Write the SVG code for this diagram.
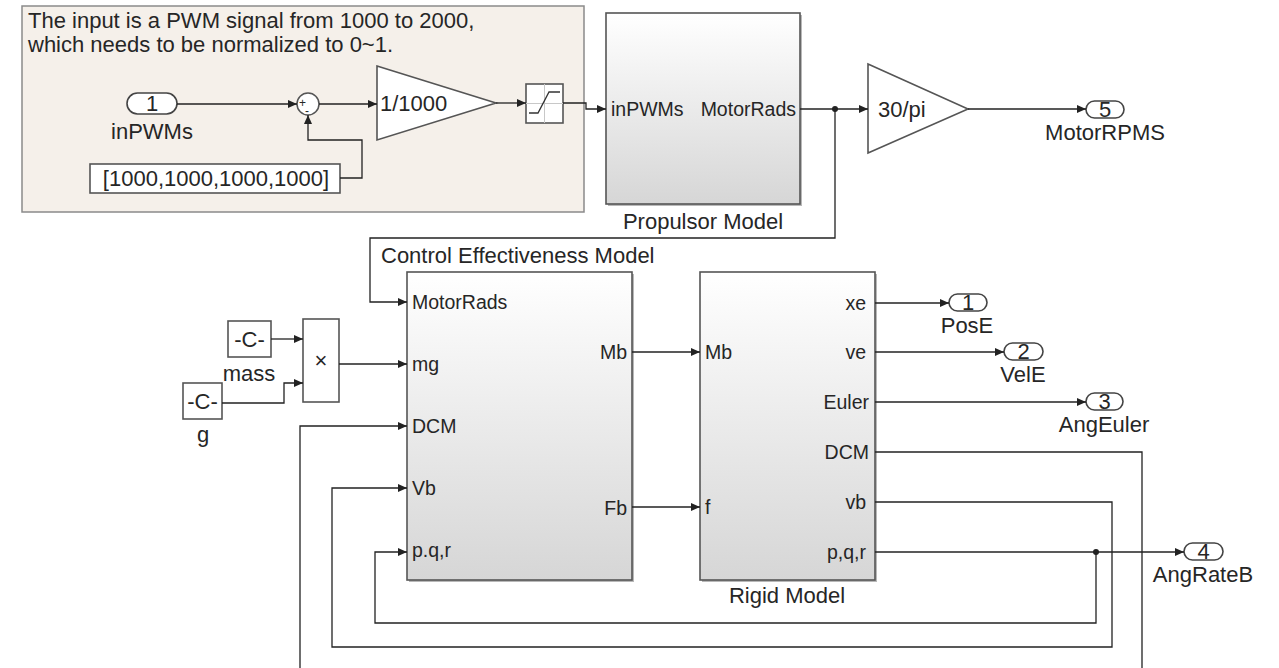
<svg xmlns="http://www.w3.org/2000/svg" width="1279" height="668" viewBox="0 0 1279 668">
  <style>
    .txt { font-family: "Liberation Sans", Arial, sans-serif; font-size: 22px; fill: #262626; }
    .port { font-family: "Liberation Sans", Arial, sans-serif; font-size: 19.5px; fill: #262626; }
    .small { font-family: "Liberation Sans", Arial, sans-serif; font-size: 12px; fill: #262626; }
    .sub { fill: url(#blkGrad); stroke: #555; stroke-width: 1.6; }
    .shadow { fill: #b8b8b8; }
    .plain { fill: #fff; stroke: #555; stroke-width: 1.6; }
    .pill { fill: #fff; stroke: #444; stroke-width: 1.6; }
    .wire { fill: none; stroke: #222; stroke-width: 1.3; }
    .arrow { marker-end: url(#ah); }
    .mid { text-anchor: middle; }
    .end { text-anchor: end; }
  </style>
  <defs>
    <linearGradient id="blkGrad" x1="0" y1="0" x2="0" y2="1">
      <stop offset="0" stop-color="#ffffff"/>
      <stop offset="1" stop-color="#d6d6d6"/>
    </linearGradient>
    <marker id="ah" markerUnits="userSpaceOnUse" markerWidth="10" markerHeight="8" refX="9" refY="4" orient="auto">
      <path d="M0,0 L9,4 L0,8 z" fill="#222"/>
    </marker>
  </defs>

  <!-- annotation area: input normalisation -->
  <g id="area-normalize">
    <rect x="22" y="6" width="562" height="206" fill="#f5f0ea" stroke="#8a8a8a" stroke-width="1.5"/>
    <text class="txt" x="28" y="28">The input is a PWM signal from 1000 to 2000,</text>
    <text class="txt" x="28" y="52">which needs to be normalized to 0~1.</text>
  </g>

  <!-- inport 1 -->
  <g id="in-pwms">
    <rect class="pill" x="127" y="93" width="50" height="21" rx="10.5"/>
    <text class="txt mid" x="152" y="111">1</text>
    <text class="txt mid" x="152" y="139">inPWMs</text>
  </g>

  <!-- sum -->
  <g id="sum">
    <circle cx="308" cy="104" r="11" fill="#fff" stroke="#555" stroke-width="1.5"/>
    <text class="small" x="299" y="107">+</text>
    <text class="small" x="305" y="115">-</text>
  </g>

  <!-- constant offset -->
  <g id="const-offset">
    <rect class="plain" x="90" y="164" width="250" height="29"/>
    <text class="txt mid" x="216" y="186">[1000,1000,1000,1000]</text>
  </g>

  <!-- gain 1/1000 -->
  <g id="gain-scale">
    <path class="plain" d="M377,66 L496,103 L377,140 z"/>
    <text class="txt" x="380" y="111">1/1000</text>
  </g>

  <!-- saturation -->
  <g id="saturation">
    <rect class="plain" x="526" y="84" width="37" height="39"/>
    <path d="M526,103.5 H563 M544.5,84 V123" stroke="#c8c8c8" stroke-width="1"/>
    <path d="M529,113 H538 L549,92 H560" fill="none" stroke="#333" stroke-width="1.3"/>
  </g>

  <!-- propulsor subsystem -->
  <g id="propulsor-model">
    <rect class="shadow" x="608" y="15" width="194" height="191"/>
    <rect class="sub" x="606" y="13" width="194" height="191"/>
    <text class="port" x="611" y="116">inPWMs</text>
    <text class="port end" x="796" y="116">MotorRads</text>
    <text class="txt mid" x="703" y="229">Propulsor Model</text>
  </g>

  <!-- gain 30/pi -->
  <g id="gain-rpm">
    <path class="plain" d="M868,64 L968,109 L868,153 z"/>
    <text class="txt" x="878" y="117">30/pi</text>
  </g>

  <!-- outport 5 -->
  <g id="out-motor-rpms">
    <rect class="pill" x="1086" y="101" width="38" height="17" rx="8.5"/>
    <text class="txt mid" x="1105" y="117">5</text>
    <text class="txt mid" x="1105" y="140">MotorRPMS</text>
  </g>

  <!-- constants mass and g -->
  <g id="const-mass">
    <rect class="plain" x="228" y="321" width="43" height="36"/>
    <text class="txt mid" x="249.5" y="347">-C-</text>
    <text class="txt mid" x="249" y="381">mass</text>
  </g>
  <g id="const-g">
    <rect class="plain" x="183" y="383" width="39" height="36"/>
    <text class="txt mid" x="202.5" y="409">-C-</text>
    <text class="txt mid" x="203" y="442">g</text>
  </g>

  <!-- product -->
  <g id="product">
    <rect class="plain" x="303" y="319" width="36" height="83"/>
    <text class="txt mid" x="321" y="368">×</text>
  </g>

  <!-- control effectiveness subsystem -->
  <g id="control-effectiveness-model">
    <text class="txt" x="381" y="263">Control Effectiveness Model</text>
    <rect class="shadow" x="409" y="274" width="225" height="308"/>
    <rect class="sub" x="407" y="272" width="225" height="308"/>
    <text class="port" x="412" y="309">MotorRads</text>
    <text class="port" x="412" y="371">mg</text>
    <text class="port" x="412" y="433">DCM</text>
    <text class="port" x="412" y="495">Vb</text>
    <text class="port" x="412" y="557">p.q,r</text>
    <text class="port end" x="627" y="359">Mb</text>
    <text class="port end" x="627" y="515">Fb</text>
  </g>

  <!-- rigid body subsystem -->
  <g id="rigid-model">
    <rect class="shadow" x="702" y="274" width="175" height="308"/>
    <rect class="sub" x="700" y="272" width="175" height="308"/>
    <text class="port" x="705" y="359">Mb</text>
    <text class="port" x="705" y="514">f</text>
    <text class="port end" x="866" y="310">xe</text>
    <text class="port end" x="866" y="359">ve</text>
    <text class="port end" x="869" y="409">Euler</text>
    <text class="port end" x="869" y="459">DCM</text>
    <text class="port end" x="866" y="509">vb</text>
    <text class="port end" x="866" y="559">p,q,r</text>
    <text class="txt mid" x="787" y="603">Rigid Model</text>
  </g>

  <!-- outports 1..4 -->
  <g id="out-pos-e">
    <rect class="pill" x="949" y="294" width="38" height="17" rx="8.5"/>
    <text class="txt mid" x="968" y="310">1</text>
    <text class="txt mid" x="967" y="333">PosE</text>
  </g>
  <g id="out-vel-e">
    <rect class="pill" x="1004" y="343" width="39" height="17" rx="8.5"/>
    <text class="txt mid" x="1023.5" y="359">2</text>
    <text class="txt mid" x="1023" y="382">VelE</text>
  </g>
  <g id="out-ang-euler">
    <rect class="pill" x="1086" y="393" width="37" height="17" rx="8.5"/>
    <text class="txt mid" x="1104.5" y="409">3</text>
    <text class="txt mid" x="1104" y="432">AngEuler</text>
  </g>
  <g id="out-ang-rate-b">
    <rect class="pill" x="1184" y="543" width="39" height="17" rx="8.5"/>
    <text class="txt mid" x="1203.5" y="559">4</text>
    <text class="txt mid" x="1203" y="582">AngRateB</text>
  </g>

  <!-- signal lines -->
  <g id="connectors">
    <path class="wire arrow" d="M177,104 H297"/>
    <path class="wire arrow" d="M340,178 H362 V140 H308 V115"/>
    <path class="wire arrow" d="M319,104 H377"/>
    <path class="wire arrow" d="M496,103 H526"/>
    <path class="wire arrow" d="M563,103 H586 V109 H606"/>
    <path class="wire arrow" d="M800,109 H868"/>
    <path class="wire arrow" d="M835,109 V238 H370 V302 H407"/>
    <circle cx="835" cy="109" r="3" fill="#222"/>
    <path class="wire arrow" d="M968,109 H1086"/>

    <path class="wire arrow" d="M271,339 H303"/>
    <path class="wire arrow" d="M222,403 H284 V383 H303"/>
    <path class="wire arrow" d="M339,364 H407"/>

    <path class="wire arrow" d="M632,352 H700"/>
    <path class="wire arrow" d="M632,507 H700"/>

    <path class="wire arrow" d="M875,303 H949"/>
    <path class="wire arrow" d="M875,352 H1004"/>
    <path class="wire arrow" d="M875,402 H1086"/>
    <path class="wire arrow" d="M875,552 H1184"/>
    <circle cx="1096" cy="552" r="3" fill="#222"/>

    <path class="wire arrow" d="M1096,552 V623 H375 V552 H407"/>
    <path class="wire arrow" d="M875,502 H1112 V647 H332 V488 H407"/>
    <path class="wire" d="M875,452 H1142 V668"/>
    <path class="wire arrow" d="M300,668 V426 H407"/>
  </g>
</svg>
